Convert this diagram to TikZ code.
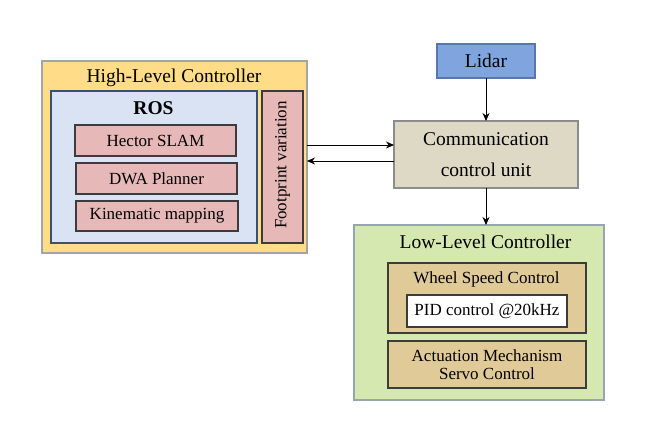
\documentclass[tikz,border=0pt]{standalone}
\usepackage{fontspec}
\setmainfont{Liberation Serif}
\usetikzlibrary{arrows.meta}
\definecolor{hlcfill}{RGB}{255,220,135}
\definecolor{hlcdraw}{RGB}{160,165,170}
\definecolor{rosfill}{RGB}{218,227,243}
\definecolor{rosdraw}{RGB}{55,82,110}
\definecolor{pinkfill}{RGB}{230,184,183}
\definecolor{darkedge}{RGB}{60,60,60}
\definecolor{lidarfill}{RGB}{128,165,222}
\definecolor{lidardraw}{RGB}{85,120,175}
\definecolor{commfill}{RGB}{221,217,196}
\definecolor{commdraw}{RGB}{140,140,140}
\definecolor{llcfill}{RGB}{213,232,176}
\definecolor{llcdraw}{RGB}{150,165,180}
\definecolor{tanfill}{RGB}{224,202,152}
\tikzset{
  box/.style={rectangle, inner sep=0pt, outer sep=0pt, align=center},
  outerbox/.style={box, fill=hlcfill, draw=hlcdraw, line width=1.2pt},
  rosbox/.style={box, fill=rosfill, draw=rosdraw, line width=2.4pt},
  pinkbox/.style={box, fill=pinkfill, draw=darkedge, line width=1.1pt, font=\rmfamily\fontsize{17}{20}\selectfont},
  lidarbox/.style={box, fill=lidarfill, draw=lidardraw, line width=1.1pt, font=\rmfamily\fontsize{19.5}{23}\selectfont},
  commbox/.style={box, fill=commfill, draw=commdraw, line width=1.1pt, font=\rmfamily\fontsize{19.5}{31}\selectfont},
  llcbox/.style={box, fill=llcfill, draw=llcdraw, line width=1.1pt},
  tanbox/.style={box, fill=tanfill, draw=darkedge, line width=1.1pt, font=\rmfamily\fontsize{17}{18.5}\selectfont},
  pidbox/.style={box, fill=white, draw=darkedge, line width=1.1pt, font=\rmfamily\fontsize{17}{20}\selectfont},
  titletext/.style={inner sep=0pt, font=\rmfamily\fontsize{19.5}{23}\selectfont},
  subtext/.style={inner sep=0pt, font=\rmfamily\fontsize{17}{20}\selectfont},
  conn/.style={line width=1pt, -{Stealth[length=8pt,width=7pt]}},
}
\begin{document}
\begin{tikzpicture}[x=1pt,y=-1pt]
\useasboundingbox (0,0) rectangle (646,421);
% High-level controller
\node[outerbox, minimum width=265pt, minimum height=192pt] (hlc) at (174.5,157) {};
\node[titletext] (hlct) at (174,77.5) {High-Level Controller};
\node[rosbox, minimum width=206pt, minimum height=152pt] (ros) at (154,167) {};
\node[titletext, font=\rmfamily\bfseries\fontsize{19.5}{23}\selectfont] (rost) at (153.5,108) {ROS};
\node[pinkbox, minimum width=161pt, minimum height=31pt] (hector) at (155.5,140.5) {Hector SLAM};
\node[pinkbox, minimum width=161pt, minimum height=31pt] (dwa) at (156.5,178.5) {DWA Planner};
\node[pinkbox, minimum width=162pt, minimum height=30pt] (kin) at (157,216) {Kinematic mapping};
\node[pinkbox, minimum width=41pt, minimum height=152pt] (foot) at (282.5,167) {};
\node[subtext, rotate=90] (foott) at (282.5,165) {Footprint variation};
% Lidar and communication unit
\node[lidarbox, minimum width=98pt, minimum height=34pt] (lidar) at (486,61) {Lidar};
\node[commbox, minimum width=184pt, minimum height=67pt] (comm) at (486,154.5) {Communication\\control unit};
% Low-level controller
\node[llcbox, minimum width=250pt, minimum height=175pt] (llc) at (479,312.5) {};
\node[titletext] (llct) at (485.5,241.5) {Low-Level Controller};
\node[tanbox, minimum width=198pt, minimum height=70pt] (wheel) at (487,298) {};
\node[subtext] (wheelt) at (486.5,279) {Wheel Speed Control};
\node[pidbox, minimum width=160pt, minimum height=32pt] (pid) at (487,311) {PID control @20kHz};
\node[tanbox, minimum width=198pt, minimum height=47pt] (act) at (487,364.5) {Actuation Mechanism\\Servo Control};
% Connectors
\draw[conn] (lidar.south) -- (comm.north);
\draw[conn] (comm.south) -- (llc.north -| comm.south);
\draw[conn] ([yshift=12pt]hlc.east) -- ([yshift=12pt]hlc.east -| comm.west);
\draw[conn] ([yshift=-4pt]hlc.east -| comm.west) -- ([yshift=-4pt]hlc.east);
\end{tikzpicture}
\end{document}
